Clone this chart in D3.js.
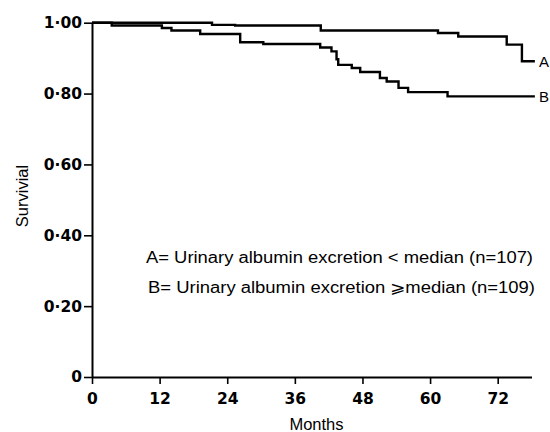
<!DOCTYPE html>
<html>
<head>
<meta charset="utf-8">
<script src="https://cdn.jsdelivr.net/npm/d3@7"></script>
<style>
  html, body { margin: 0; padding: 0; background: #fff; }
  svg { display: block; }
</style>
</head>
<body>
<svg id="chart" width="550" height="432"></svg>
<script>
// ---- data ----
const monthsA = [0, 21.3, 25.4, 40.6, 61.4, 65.0, 73.6, 76.3, 78.6];
const survA   = [1.000, 0.994, 0.992, 0.978, 0.971, 0.961, 0.938, 0.891, 0.891];
const monthsB = [0, 3.5, 12.4, 14.1, 19.2, 26.3, 30.4, 40.5, 42.5, 43.4, 43.7, 46.1, 47.6, 51.1, 52.3, 54.4, 56.1, 63.1, 78.6];
const survB   = [1.000, 0.992, 0.985, 0.978, 0.968, 0.945, 0.940, 0.930, 0.919, 0.897, 0.881, 0.872, 0.861, 0.844, 0.834, 0.816, 0.804, 0.792, 0.792];
const seriesLabels = ["A", "B"];
const xTicks = [0, 12, 24, 36, 48, 60, 72];
const yTicks = [0, 0.2, 0.4, 0.6, 0.8, 1.0];
const legendLines = [
  "A= Urinary albumin excretion < median (n=107)",
  "B= Urinary albumin excretion  \u2A7Emedian (n=109)"
];
const xTitle = "Months";
const yTitle = "Survivial";

// ---- chart ----
const svg = d3.select("#chart");
const x = d3.scaleLinear().domain([0, 78]).range([92, 531.5]);
const y = d3.scaleLinear().domain([0, 1]).range([377, 22.7]);

const tickFont = "'DejaVu Sans', sans-serif";
const textFont = "'Liberation Sans', Arial, sans-serif";

const yAxis = d3.axisLeft(y).tickValues(yTicks).tickSize(8).tickSizeOuter(0).tickPadding(2)
  .tickFormat(d => d === 0 ? "0" : d.toFixed(2).replace(".", "\u00B7"));
const gy = svg.append("g").attr("transform", "translate(92,0)").call(yAxis);

const xAxis = d3.axisBottom(x).tickValues(xTicks).tickSize(7).tickSizeOuter(0).tickPadding(9);
const gx = svg.append("g").attr("transform", "translate(0,377)").call(xAxis);

[gx, gy].forEach(g => {
  g.select(".domain").attr("stroke", "#000").attr("stroke-width", 2);
  g.selectAll(".tick line").attr("stroke", "#000").attr("stroke-width", 1.6);
  g.selectAll(".tick text").attr("fill", "#000")
    .attr("font-family", tickFont).attr("font-weight", "bold").attr("font-size", 15.5);
});

const line = d3.line().x(d => x(d[0])).y(d => y(d[1])).curve(d3.curveStepAfter);
const dataA = monthsA.map((m, i) => [m, survA[i]]);
const dataB = monthsB.map((m, i) => [m, survB[i]]);
[dataA, dataB].forEach(d => {
  svg.append("path").datum(d).attr("d", line)
    .attr("fill", "none").attr("stroke", "#000").attr("stroke-width", 2.4)
    .attr("stroke-linejoin", "miter");
});

// end labels
[dataA, dataB].forEach((d, i) => {
  const last = d[d.length - 1];
  svg.append("text").attr("x", x(last[0]) + 4).attr("y", y(last[1]))
    .attr("dy", "0.36em").attr("font-family", textFont).attr("font-size", 15)
    .attr("fill", "#000").text(seriesLabels[i]);
});

// legend
svg.append("text").attr("x", 146).attr("y", 263).attr("font-family", textFont)
  .attr("font-size", 16).attr("fill", "#000").attr("textLength", 387).attr("lengthAdjust", "spacingAndGlyphs")
  .text(legendLines[0]);
svg.append("text").attr("x", 148).attr("y", 293).attr("font-family", textFont)
  .attr("font-size", 16).attr("fill", "#000").attr("textLength", 387).attr("lengthAdjust", "spacingAndGlyphs")
  .text(legendLines[1]);

// axis titles
svg.append("text").attr("x", 316.5).attr("y", 430).attr("text-anchor", "middle")
  .attr("font-family", textFont).attr("font-size", 16.5).attr("fill", "#000").text(xTitle);
svg.append("text").attr("transform", "translate(28,196) rotate(-90)").attr("text-anchor", "middle")
  .attr("font-family", textFont).attr("font-size", 16.5).attr("fill", "#000").text(yTitle);
</script>
</body>
</html>
